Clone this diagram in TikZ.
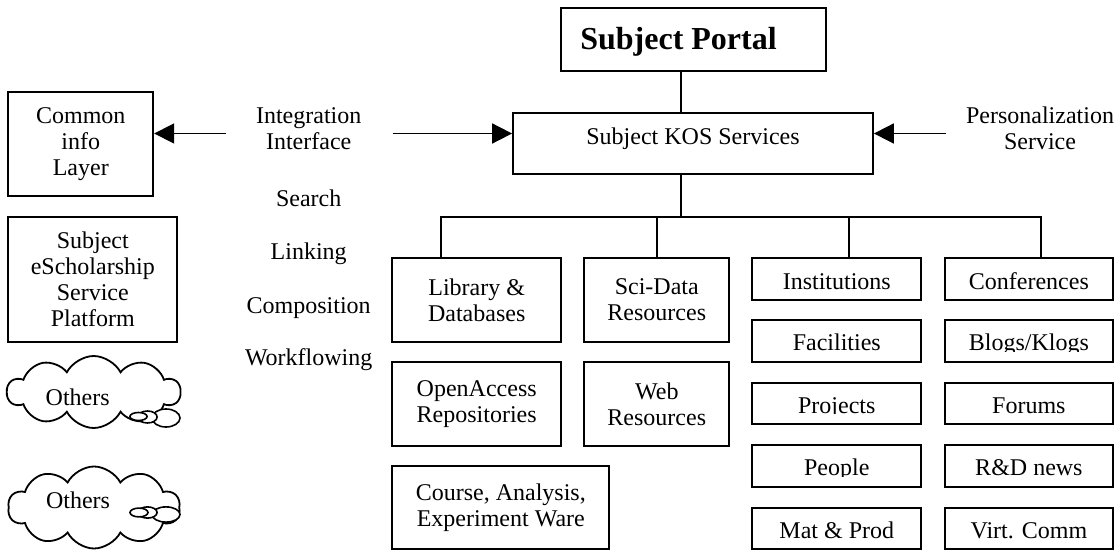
\documentclass[tikz,border=0pt]{standalone}
\usepackage{fontspec}
\setmainfont{Liberation Serif}
\usetikzlibrary{shapes.symbols,arrows.meta}
\begin{document}
\begin{tikzpicture}[x=0.5pt,y=-0.5pt,
  every node/.style={font=\fontsize{12pt}{13pt}\selectfont},
  ln/.style={line width=0.9pt},
  bx/.style={draw, line width=0.9pt, inner sep=0pt, align=center},
  sz/.style 2 args={minimum width=#1*0.5pt, minimum height=#2*0.5pt},
  sbox/.style={bx, text height=10pt, text depth=0pt},
  lbl/.style={inner sep=0pt, align=center},
  wd/.style={lbl, text height=8pt, text depth=2.5pt},
  arr/.style={line width=0.9pt, -{Triangle[length=10pt,width=10pt]}},
  cloudy/.style={cloud, draw, fill=white, line width=0.9pt, cloud puffs=10, cloud puff arc=125, cloud ignores aspect, inner sep=0pt},
  bub/.style={draw, fill=white, line width=0.8pt}
]
\useasboundingbox (0,0) rectangle (1119,550);

% top
\node[bx, sz={265}{63}, font=\fontsize{16pt}{18pt}\selectfont\bfseries, text height=11pt, text depth=0.5pt] (portal) at (693.5,39.5) {\kern-15pt Subject Portal};
\node[bx, sz={360}{61}, text height=8pt, text depth=6.5pt] (kos) at (693,143.5) {Subject KOS Services};

% left boxes
\node[bx, sz={145}{104}] (common) at (80.8,143.7) {Common\\info\\Layer};
\node[bx, sz={169}{125}] (esch) at (92.8,279.2) {Subject\\eScholarship\\Service\\Platform};

% clouds
\node[cloudy, minimum width=86.5pt, minimum height=36pt, text height=14pt, text depth=0pt] (oth1) at (93.7,392) {\kern-16pt Others};
\node[cloudy, minimum width=86pt, minimum height=41pt, text height=8pt, text depth=6.5pt] (oth2) at (94,507.5) {\kern-16pt Others};
\draw[bub] (166,418) ellipse [x radius=7pt, y radius=4.5pt];
\draw[bub] (147.5,417) ellipse [x radius=4.8pt, y radius=3pt];
\draw[bub] (138.5,416.5) ellipse [x radius=4.3pt, y radius=2pt];
\draw[bub] (166,514.5) ellipse [x radius=7pt, y radius=3.8pt];
\draw[bub] (147.5,512.5) ellipse [x radius=4.8pt, y radius=2.8pt];
\draw[bub] (139,512.5) ellipse [x radius=4.5pt, y radius=2.2pt];

% middle labels
\node[lbl] (integ) at (308.7,128.3) {Integration\\Interface};
\node[wd] (search) at (308.7,201.2) {Search};
\node[wd] (linking) at (308.7,253.8) {Linking};
\node[wd] (compo) at (308.7,307.8) {Composition};
\node[wd] (workf) at (308.7,360.2) {Workflowing};
\node[lbl] (pers) at (1040,128.7) {Personalization\\Service};

% arrows
\coordinate (il) at (225.7,133.5);
\coordinate (ir) at (392.7,133.5);
\coordinate (pr) at (945.7,133.5);
\draw[arr] (il) -- (common.east |- il);
\draw[arr] (ir) -- (kos.west |- ir);
\draw[arr] (pr) -- (kos.east |- pr);

% resource boxes
\node[bx, sz={168.7}{83.4}] (lib) at (476.7,300) {Library \&\\Databases};
\node[bx, sz={145}{83.4}] (sci) at (656.8,300) {Sci-Data\\Resources};
\node[bx, sz={168.7}{83.4}] (oa) at (476.7,404) {OpenAccess\\Repositories};
\node[bx, sz={145}{83.4}] (web) at (656.8,404) {Web\\Resources};
\node[bx, sz={217}{83.3}] (course) at (500.8,507.7) {Course, Analysis,\\Experiment Ware};

\node[sbox, sz={169}{41.7}] (inst) at (836.8,279.2) {Institutions};
\node[sbox, sz={169}{41.7}] (fac) at (836.8,340.8) {Facilities};
\node[sbox, sz={169}{41.7}] (proj) at (836.8,403.5) {Projects};
\node[sbox, sz={169}{41.7}] (peop) at (836.8,465.8) {People};
\node[sbox, sz={169}{41.7}] (mat) at (836.8,528.5) {Mat \& Prod};
\node[sbox, sz={167.7}{41.7}] (conf) at (1028.9,279.2) {Conferences};
\node[sbox, sz={167.7}{41.7}] (blog) at (1028.9,340.8) {Blogs/Klogs};
\node[sbox, sz={167.7}{41.7}] (forum) at (1028.9,403.5) {Forums};
\node[sbox, sz={167.7}{41.7}] (rd) at (1028.9,465.8) {R\&D news};
\node[sbox, sz={167.7}{41.7}] (virt) at (1028.9,528.5) {Virt. Comm};
\foreach \n in {inst,fac,proj,peop,mat,conf,blog,forum,rd,virt}
  \fill[white] ([shift={(3,11)}]\n.west) rectangle ([shift={(-3,-3)}]\n.south east);

% connectors
\path ([xshift=-6.25pt]portal.south) coordinate (ps);
\coordinate (bus) at (681,216.7);
\path ([xshift=-18pt]lib.north) coordinate (libn);
\path ([xshift=6.1pt]inst.north) coordinate (instn);
\path ([xshift=6.05pt]conf.north) coordinate (confn);
\draw[ln] (ps) -- (ps |- kos.north);
\draw[ln] (ps |- kos.south) -- (bus);
\draw[ln] (libn) |- (bus) -| (confn);
\draw[ln] (sci.north) -- (sci.north |- bus);
\draw[ln] (instn) -- (instn |- bus);
\end{tikzpicture}
\end{document}
